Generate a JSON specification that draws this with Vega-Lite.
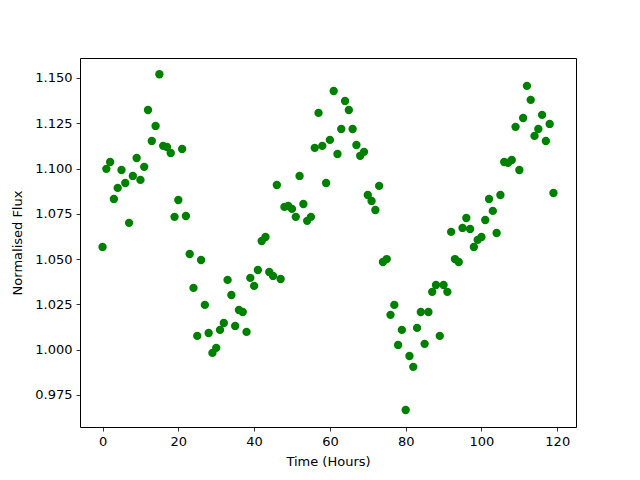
{
  "$schema": "https://vega.github.io/schema/vega-lite/v6.json",
  "width": 496,
  "height": 369,
  "autosize": {"type": "none"},
  "padding": {"left": 80, "top": 58, "right": 64, "bottom": 53},
  "background": "white",
  "config": {
    "view": {"stroke": "black", "strokeWidth": 1},
    "font": "DejaVu Sans",
    "axis": {
      "grid": false,
      "domain": false,
      "tickColor": "black",
      "tickSize": 4,
      "tickWidth": 0.8,
      "labelFont": "DejaVu Sans",
      "labelFontSize": 13,
      "labelColor": "black",
      "titleFont": "DejaVu Sans",
      "titleFontSize": 13,
      "titleFontWeight": "normal",
      "titleColor": "black",
      "labelPadding": 4
    }
  },
  "data": {
    "values": [
      {"t":0,"f":1.0567},{"t":1,"f":1.0998},{"t":2,"f":1.1036},{"t":3,"f":1.0832},{"t":4,"f":1.0893},
      {"t":5,"f":1.0992},{"t":6,"f":1.092},{"t":7,"f":1.07},{"t":8,"f":1.0959},{"t":9,"f":1.1058},
      {"t":10,"f":1.0937},{"t":11,"f":1.1009},{"t":12,"f":1.1323},{"t":13,"f":1.1152},{"t":14,"f":1.1235},
      {"t":15,"f":1.152},{"t":16,"f":1.1125},{"t":17,"f":1.1119},{"t":18,"f":1.1086},{"t":19,"f":1.0733},
      {"t":20,"f":1.0826},{"t":21,"f":1.1108},{"t":22,"f":1.0738},{"t":23,"f":1.0528},{"t":24,"f":1.0341},
      {"t":25,"f":1.0076},{"t":26,"f":1.0495},{"t":27,"f":1.0247},{"t":28,"f":1.0092},{"t":29,"f":0.9982},
      {"t":30,"f":1.001},{"t":31,"f":1.0109},{"t":32,"f":1.0147},{"t":33,"f":1.0385},{"t":34,"f":1.0302},
      {"t":35,"f":1.0131},{"t":36,"f":1.0219},{"t":37,"f":1.0208},{"t":38,"f":1.0098},{"t":39,"f":1.0396},
      {"t":40,"f":1.0352},{"t":41,"f":1.044},{"t":42,"f":1.06},{"t":43,"f":1.0622},{"t":44,"f":1.0429},
      {"t":45,"f":1.0407},{"t":46,"f":1.0909},{"t":47,"f":1.039},{"t":48,"f":1.0788},{"t":49,"f":1.0793},
      {"t":50,"f":1.0777},{"t":51,"f":1.0733},{"t":52,"f":1.0959},{"t":53,"f":1.0804},{"t":54,"f":1.0711},
      {"t":55,"f":1.0733},{"t":56,"f":1.1114},{"t":57,"f":1.1307},{"t":58,"f":1.1125},{"t":59,"f":1.092},
      {"t":60,"f":1.1158},{"t":61,"f":1.1428},{"t":62,"f":1.108},{"t":63,"f":1.1218},{"t":64,"f":1.1373},
      {"t":65,"f":1.1323},{"t":66,"f":1.1218},{"t":67,"f":1.113},{"t":68,"f":1.107},{"t":69,"f":1.1092},
      {"t":70,"f":1.0854},{"t":71,"f":1.0821},{"t":72,"f":1.0771},{"t":73,"f":1.0904},{"t":74,"f":1.0484},
      {"t":75,"f":1.05},{"t":76,"f":1.0192},{"t":77,"f":1.0247},{"t":78,"f":1.0026},{"t":79,"f":1.0109},
      {"t":80,"f":0.9667},{"t":81,"f":0.9965},{"t":82,"f":0.9905},{"t":83,"f":1.012},{"t":84,"f":1.0208},
      {"t":85,"f":1.0032},{"t":86,"f":1.0208},{"t":87,"f":1.0319},{"t":88,"f":1.0357},{"t":89,"f":1.0076},
      {"t":90,"f":1.0357},{"t":91,"f":1.0319},{"t":92,"f":1.065},{"t":93,"f":1.05},{"t":94,"f":1.0484},
      {"t":95,"f":1.0672},{"t":96,"f":1.0727},{"t":97,"f":1.0666},{"t":98,"f":1.0567},{"t":99,"f":1.0606},
      {"t":100,"f":1.0622},{"t":101,"f":1.0716},{"t":102,"f":1.0832},{"t":103,"f":1.0766},{"t":104,"f":1.0644},
      {"t":105,"f":1.0854},{"t":106,"f":1.1036},{"t":107,"f":1.1031},{"t":108,"f":1.1047},{"t":109,"f":1.123},
      {"t":110,"f":1.0992},{"t":111,"f":1.1279},{"t":112,"f":1.1456},{"t":113,"f":1.1379},{"t":114,"f":1.118},
      {"t":115,"f":1.1218},{"t":116,"f":1.1296},{"t":117,"f":1.1152},{"t":118,"f":1.1246},{"t":119,"f":1.0865}
    ]
  },
  "mark": {"type": "circle", "color": "#008000", "opacity": 1, "size": 70},
  "encoding": {
    "x": {
      "field": "t", "type": "quantitative",
      "scale": {"domain": [-5.95, 124.95], "nice": false, "zero": false},
      "axis": {"values": [0, 20, 40, 60, 80, 100, 120], "title": "Time (Hours)", "titlePadding": 7}
    },
    "y": {
      "field": "f", "type": "quantitative",
      "scale": {"domain": [0.9573, 1.161], "nice": false, "zero": false},
      "axis": {"values": [0.975, 1.0, 1.025, 1.05, 1.075, 1.1, 1.125, 1.15], "format": ".3f", "title": "Normalised Flux", "titlePadding": 10}
    }
  }
}
